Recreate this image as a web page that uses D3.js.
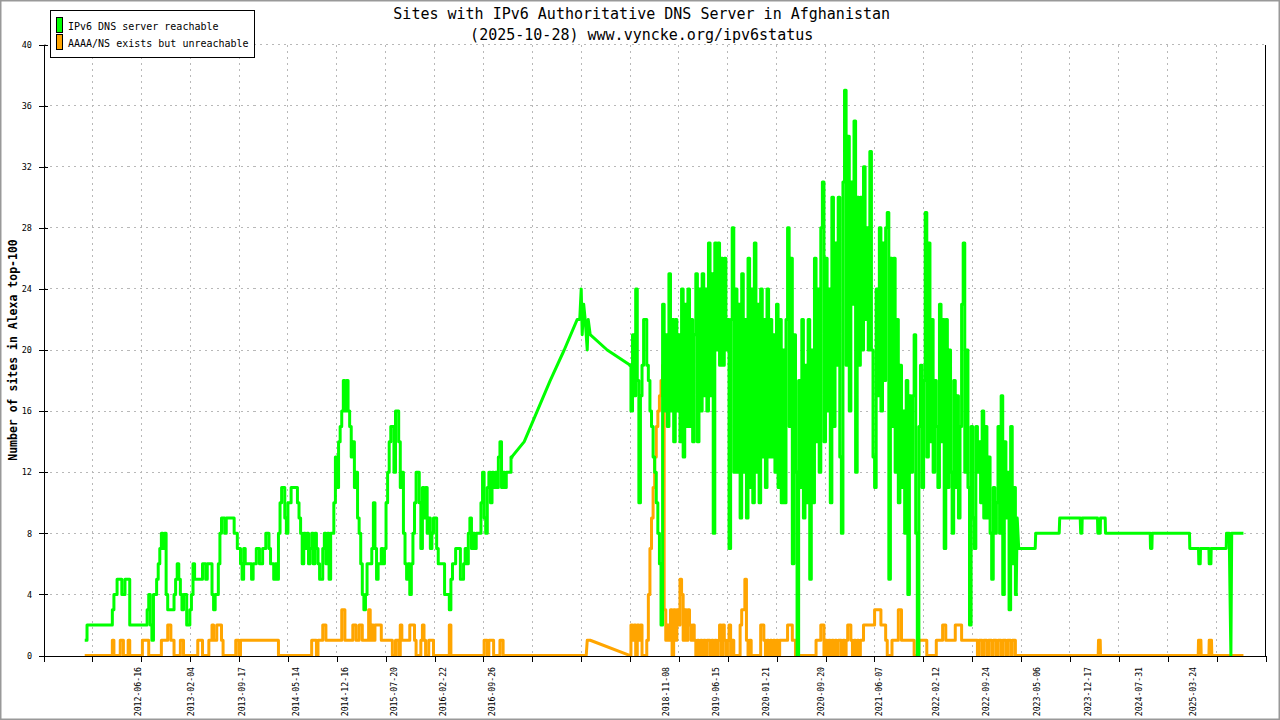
<!DOCTYPE html>
<html>
<head>
<meta charset="utf-8">
<script src="https://cdn.jsdelivr.net/npm/d3@7"></script>
<style>
  html, body { margin: 0; padding: 0; background: #fff; }
  svg { display: block; }
</style>
</head>
<body>
<svg id="chart" width="1280" height="720"></svg>
<script>
// ---------------- DATA ----------------
const titleLine1 = "Sites with IPv6 Authoritative DNS Server in Afghanistan";
const titleLine2 = "(2025-10-28) www.vyncke.org/ipv6status";
const yAxisTitle = "Number of sites in Alexa top-100";
const seriesNames = ["IPv6 DNS server reachable", "AAAA/NS exists but unreachable"];
const seriesColors = ["#00ff00", "#ffa500"];

// x tick labels (dates)
const xTickLabels = ["2012-06-16","2013-02-04","2013-09-17","2014-05-14","2014-12-16","2015-07-20",
  "2016-02-22","2016-09-26","2018-11-08","2019-06-15","2020-01-21","2020-09-20","2021-06-07",
  "2022-02-12","2022-09-24","2023-05-06","2023-12-17","2024-07-31","2025-03-24"];
const yTickValues = [0,4,8,12,16,20,24,28,32,36,40];

// time extent of the plot (decimal years)
const xDomain = [2011.3043, 2026.1074];
const yDomain = [0, 40];

// weekly samples, period 1 (starting 2011-10-28)
const earlyStart = "2011-10-28";
const greenEarly = [
  1,2,2,2,2,2,2,2,2,2,
  2,2,2,2,2,2,2,3,4,4,
  5,5,5,4,4,5,5,5,2,2,
  2,2,2,2,2,2,2,2,2,3,
  4,2,1,4,4,5,6,7,8,7,
  8,4,3,3,3,3,4,5,6,5,
  4,3,4,4,2,2,3,4,6,5,
  5,5,5,5,6,6,5,6,6,6,
  4,3,4,4,6,8,9,9,8,9,
  9,9,9,9,8,8,7,7,6,5,
  7,6,6,6,6,5,6,6,7,7,
  6,6,7,7,8,8,7,6,6,5,
  6,5,8,10,11,11,9,8,10,10,
  11,11,11,11,10,9,8,6,8,7,
  8,6,7,8,6,8,7,6,5,5,
  7,8,6,8,5,8,8,10,13,11,
  14,15,16,18,16,18,16,15,13,14,
  11,12,9,8,6,4,3,4,6,6,
  6,7,10,7,5,6,6,7,6,7,
  10,12,14,15,15,12,16,16,14,11,
  12,8,6,5,6,4,6,8,10,12,
  12,10,7,11,9,11,8,9,7,8,
  9,9,7,6,6,6,6,4,4,4,
  3,5,6,6,7,7,7,5,5,6,
  7,6,8,9,7,8,7,8,8,8,
  10,12,9,8,11,12,10,12,11,12,
  11,13,14,11,12,11,12,12,12,13
];
const orangeEarly = [
  0,0,0,0,0,0,0,0,0,0,
  0,0,0,0,0,0,0,1,0,0,
  0,0,1,1,0,0,0,1,0,0,
  0,0,0,0,0,0,1,1,1,1,
  0,0,0,0,0,0,0,0,1,1,
  1,1,2,2,1,1,0,0,0,0,
  1,1,0,0,0,0,0,0,0,0,
  0,1,1,1,0,0,0,0,1,1,
  2,1,1,2,2,2,1,0,0,0,
  0,0,0,0,0,1,1,0,1,1,
  1,1,1,1,1,1,1,1,1,1,
  1,1,1,1,1,1,1,1,1,1,
  1,1,0,0,0,0,0,0,0,0,
  0,0,0,0,0,0,0,0,0,0,
  0,0,0,1,1,1,0,1,1,1,
  2,2,1,1,1,1,1,1,1,1,
  1,1,3,3,1,1,1,1,1,2,
  2,1,1,2,2,1,1,1,1,3,
  1,2,1,2,2,2,2,1,1,1,
  1,1,1,1,0,0,1,1,0,2,
  1,1,1,1,1,2,2,2,1,0,
  0,0,1,2,1,0,0,1,1,1,
  0,0,0,0,0,0,0,0,0,0,
  2,0,0,0,0,0,0,0,0,0,
  0,0,0,0,0,0,0,0,0,0,
  0,0,1,1,0,1,1,1,0,0,
  0,0,1,1,0,0,0,0,0,0
];

// sparse samples 2017-2018 (decimal year, value)
const greenGap = [
  [2017.128,14],[2017.285,16],[2017.442,18],[2017.612,20],[2017.770,22],[2017.800,22],
  [2017.818,24],[2017.830,21],[2017.848,23],[2017.866,22],[2017.891,20],[2017.903,22],
  [2017.927,21],[2018.133,20]
];
const orangeGap = [
  [2017.128,0],[2017.879,0],[2017.891,1],[2017.927,1]
];

// weekly samples, period 2 (starting 2018-05-31)
const denseStart = "2018-05-31";
const greenDense = [
  19,16,21,17,24,18,10,17,19,22,
  22,19,18,16,15,13,12,10,8,6,
  2,23,16,21,15,25,16,22,14,22,
  16,21,14,24,13,23,15,24,15,22,
  14,21,25,14,24,16,25,17,24,16,
  27,17,25,8,27,20,27,19,26,19,
  26,20,22,7,22,28,12,24,12,23,
  9,25,12,22,9,26,11,24,10,27,
  12,23,10,24,13,22,11,24,13,22,
  13,21,12,23,11,22,10,20,10,22,
  28,15,26,6,21,12,0,18,11,22,
  9,19,10,22,5,20,10,26,14,24,
  12,28,31,14,26,16,24,10,30,15,
  27,19,30,13,8,31,37,19,34,16,
  31,23,35,12,30,19,30,20,32,22,
  28,20,33,20,13,11,24,17,28,16,
  27,18,28,29,5,26,15,26,12,22,
  10,19,11,16,8,18,4,17,12,17,
  21,8,0,15,19,11,18,29,13,27,
  14,22,12,18,15,11,23,14,22,7,
  22,11,20,12,8,18,11,17,9,15,
  23,27,12,20,11,2,15,9,7,15,
  12,14,10,16,9,15,9,13,8,5,
  11,8,10,15,8,17,4,14,9,12,
  3,15,6,11,4
];
const orangeDense = [
  0,2,1,2,0,2,1,2,0,0,
  0,1,4,7,9,11,13,15,16,17,
  18,19,3,1,2,1,3,0,3,1,
  3,2,5,4,1,3,1,3,2,1,
  2,1,0,1,0,1,0,1,0,1,
  1,0,1,0,1,0,1,2,0,2,
  1,0,1,2,0,1,0,0,0,0,
  2,3,3,5,1,0,1,0,0,0,
  0,0,0,2,2,1,0,1,0,1,
  0,1,0,1,0,1,1,1,1,1,
  2,2,2,1,1,0,0,0,0,0,
  0,0,0,0,0,0,0,0,1,1,
  1,2,2,0,1,0,1,0,1,0,
  1,0,1,1,0,1,0,1,2,2,
  1,0,1,0,1,0,1,1,2,2,
  2,2,2,2,2,3,3,3,3,2,
  2,2,1,0,0,0,1,1,1,1,
  3,3,1,1,1,1,1,1,1,1,
  0,0,0,1,1,1,1,1,0,0,
  0,0,0,0,1,1,1,1,2,2,
  1,1,1,1,1,1,2,2,2,2,
  1,1,1,1,1,1,1,1,1,1,
  0,1,1,0,1,1,0,1,1,0,
  1,1,0,1,1,0,1,1,0,1,
  1,0,1,1,0
];

// late period 2023-2025 (decimal year, value)
const greenLate = [
  [2023.0996,9],[2023.1178,7],[2023.3177,7],[2023.3237,8],[2023.6084,8],[2023.6144,9],
  [2023.8628,9],[2023.8688,8],[2023.8834,8],[2023.8870,9],[2024.0724,9],[2024.0760,8],
  [2024.1051,8],[2024.1087,9],[2024.1656,9],[2024.1693,8],[2024.7107,8],[2024.7144,7],
  [2024.7313,7],[2024.7350,8],[2025.1868,8],[2025.1905,7],[2025.2959,7],[2025.2995,6],
  [2025.3165,6],[2025.3201,7],[2025.4219,7],[2025.4255,6],[2025.4461,6],[2025.4497,7],
  [2025.6314,7],[2025.6350,8],[2025.6677,8],[2025.6774,4],[2025.6883,0],[2025.6980,8],
  [2025.8220,8]
];
const orangeLate = [
  [2023.0960,0],[2024.0808,0],[2024.0845,1],[2024.1051,1],[2024.1087,0],[2025.2923,0],
  [2025.2959,1],[2025.3249,1],[2025.3286,0],[2025.4219,0],[2025.4255,1],[2025.4533,1],
  [2025.4570,0],[2025.8220,0]
];

// ---------------- HELPERS ----------------
function decYear(s) {
  const [y, m, d] = s.split("-").map(Number);
  const a = Date.UTC(y, 0, 1), b = Date.UTC(y + 1, 0, 1);
  return y + (Date.UTC(y, m - 1, d) - a) / (b - a);
}
const WEEK = 7 / 365.25;
function weekly(startStr, values) {
  const s = decYear(startStr);
  return values.map((v, i) => [s + i * WEEK, v]);
}

// ---------------- LAYOUT ----------------
const W = 1280, H = 720;
const plot = { left: 43.5, right: 1265.5, top: 44.5, bottom: 655.5 };
const MONO = "'DejaVu Sans Mono', 'Liberation Mono', monospace";

const svg = d3.select("#chart");
svg.append("rect").attr("x", 0).attr("y", 0).attr("width", W).attr("height", H).attr("fill", "#fff");

const x = d3.scaleLinear().domain(xDomain).range([plot.left, plot.right]);
const y = d3.scaleLinear().domain(yDomain).range([plot.bottom, plot.top]);

// tick positions: 25 even intervals across the time extent
const xTickValues = d3.range(26).map(k => xDomain[0] + k * (xDomain[1] - xDomain[0]) / 25);

// grid
const grid = svg.append("g").attr("stroke", "#b8b8b8").attr("stroke-width", 1)
  .attr("stroke-dasharray", "2,4").attr("shape-rendering", "crispEdges");
grid.selectAll("line.h").data(yTickValues.filter(v => v > 0)).join("line")
  .attr("class", "h")
  .attr("x1", plot.left).attr("x2", plot.right)
  .attr("y1", d => y(d)).attr("y2", d => y(d));
grid.selectAll("line.v").data(xTickValues.slice(1, -1)).join("line")
  .attr("class", "v")
  .attr("x1", d => x(d)).attr("x2", d => x(d))
  .attr("y1", plot.top).attr("y2", plot.bottom);

// data lines: daily-sampled periods drawn as steps, sparse periods joined linearly
function drawSeries(color, early, gap, dense, late) {
  const e = weekly(earlyStart, early);
  const dn = weekly(denseStart, dense);
  const parts = [
    { pts: e, curve: d3.curveStep },
    { pts: [e[e.length - 1], ...gap, dn[0]], curve: d3.curveLinear },
    { pts: dn, curve: d3.curveStep },
    { pts: [dn[dn.length - 1], ...late], curve: d3.curveLinear }
  ];
  const g = svg.append("g");
  parts.forEach(p => {
    const ln = d3.line().x(d => x(d[0])).y(d => y(d[1])).curve(p.curve);
    g.append("path").datum(p.pts).attr("d", ln)
      .attr("fill", "none").attr("stroke", color).attr("stroke-width", 3)
      .attr("stroke-linejoin", "round").attr("stroke-linecap", "square");
  });
}
drawSeries(seriesColors[1], orangeEarly, orangeGap, orangeDense, orangeLate);
drawSeries(seriesColors[0], greenEarly, greenGap, greenDense, greenLate);

// x axis
const xAxis = d3.axisBottom(x).tickValues(xTickValues).tickSize(6).tickSizeOuter(0).tickFormat("");
const gx = svg.append("g").attr("transform", `translate(0,${plot.bottom})`).call(xAxis);
gx.selectAll("path, line").attr("stroke", "#000").attr("shape-rendering", "crispEdges");

// right border line
svg.append("line").attr("x1", plot.right).attr("x2", plot.right)
  .attr("y1", plot.top).attr("y2", plot.bottom)
  .attr("stroke", "#000").attr("shape-rendering", "crispEdges");

// x tick labels (rotated)
svg.append("g").selectAll("text").data(xTickLabels).join("text")
  .attr("transform", d => `translate(${x(decYear(d))},667) rotate(-90)`)
  .attr("dy", "0.35em")
  .attr("text-anchor", "end")
  .attr("font-family", MONO).attr("font-size", 8.2).attr("fill", "#000")
  .text(d => d);

// y axis
const yAxis = d3.axisLeft(y).tickValues(yTickValues).tickSize(5).tickSizeOuter(0).tickPadding(6.5)
  .tickFormat(d3.format("d"));
const gy = svg.append("g").attr("transform", `translate(${plot.left},0)`).call(yAxis);
gy.selectAll("path, line").attr("stroke", "#000").attr("shape-rendering", "crispEdges");
gy.selectAll(".tick line").attr("x1", 4);
gy.selectAll("text").attr("font-family", MONO).attr("font-size", 8.5).attr("fill", "#000");

// y axis title
svg.append("text")
  .attr("transform", `translate(13,${(plot.top + plot.bottom) / 2}) rotate(-90)`)
  .attr("text-anchor", "middle").attr("dy", "0.35em")
  .attr("font-family", MONO).attr("font-weight", "bold").attr("font-size", 11.5)
  .text(yAxisTitle);

// title
svg.append("text").attr("x", 641.7).attr("y", 18.7).attr("text-anchor", "middle")
  .attr("font-family", MONO).attr("font-size", 15).text(titleLine1);
svg.append("text").attr("x", 641.7).attr("y", 40.3).attr("text-anchor", "middle")
  .attr("font-family", MONO).attr("font-size", 15).text(titleLine2);

// legend
const lg = svg.append("g");
lg.append("rect").attr("x", 50.5).attr("y", 10.5).attr("width", 204).attr("height", 47)
  .attr("fill", "#fff").attr("stroke", "#000").attr("shape-rendering", "crispEdges");
seriesNames.forEach((name, i) => {
  lg.append("rect").attr("x", 56.5).attr("y", 17.5 + i * 17).attr("width", 6).attr("height", 15)
    .attr("fill", seriesColors[i]).attr("stroke", "#000").attr("shape-rendering", "crispEdges");
  lg.append("text").attr("x", 68).attr("y", 29.5 + i * 17.3)
    .attr("font-family", MONO).attr("font-size", 10).attr("fill", "#000").text(name);
});

// image frame
svg.append("rect").attr("x", 0.75).attr("y", 0.75).attr("width", W - 1.5).attr("height", H - 1.5)
  .attr("fill", "none").attr("stroke", "#999").attr("stroke-width", 1.5);
</script>
</body>
</html>
